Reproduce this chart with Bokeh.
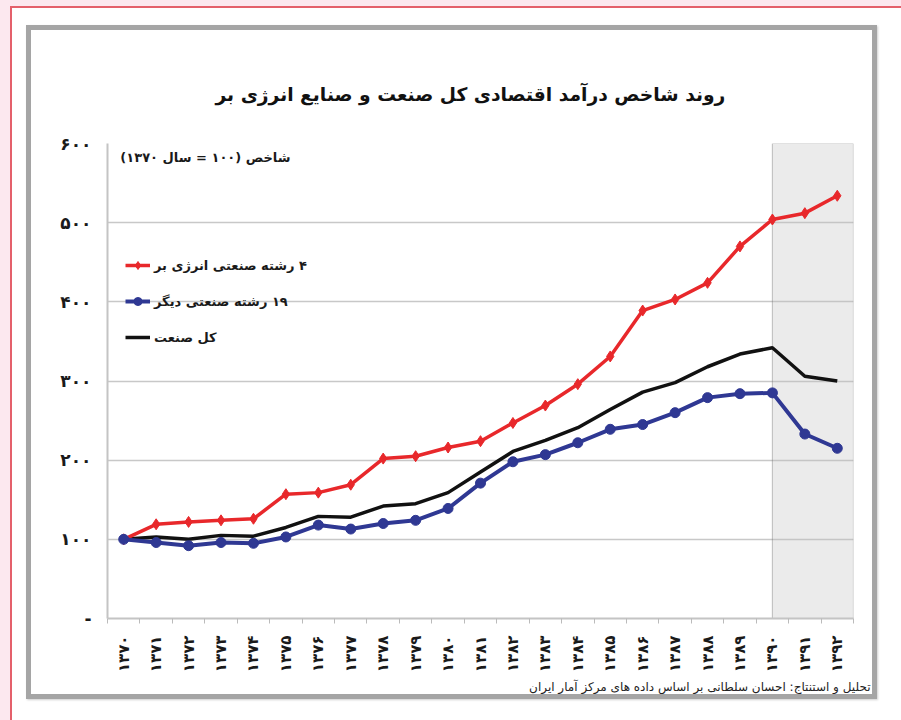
import math
from bokeh.plotting import figure
from bokeh.models import Range1d, FixedTicker, BoxAnnotation, Label, Legend, LegendItem, Title
from bokeh.embed import file_html
from bokeh.resources import INLINE

# ---------------- data ----------------
years = list(range(1370, 1393))
energy = [100, 119, 122, 124, 126, 157, 159, 169, 202, 205, 216, 224, 247,
          269, 296, 331, 389, 403, 424, 470, 504, 512, 534]
other = [100, 96, 92, 96, 95, 103, 118, 113, 120, 124, 139, 171, 198,
         207, 222, 239, 245, 260, 279, 284, 285, 233, 215]
total = [100, 103, 100, 105, 104, 115, 129, 128, 142, 145, 159, 185, 211,
         225, 241, 264, 286, 298, 318, 334, 342, 306, 300]

FA = str.maketrans("0123456789", "۰۱۲۳۴۵۶۷۸۹")
year_labels = [str(y).translate(FA) for y in years]
y_ticks = [0, 100, 200, 300, 400, 500, 600]
y_tick_labels = ["-"] + [str(v).translate(FA) for v in y_ticks[1:]]

title_text = "روند شاخص درآمد اقتصادی کل صنعت و صنایع انرژی بر"
subtitle_text = "شاخص (۱۰۰ = سال ۱۳۷۰)"
series_names = ["۴ رشته صنعتی انرژی بر", "۱۹ رشته صنعتی دیگر", "کل صنعت"]
source_text = "تحلیل و استنتاج: احسان سلطانی بر اساس داده های مرکز آمار ایران"
shade_start = 1390


def rtl(s):
    return "\u202b" + s + "\u202c"


RED = "#e8282b"
BLUE = "#2f3893"
BLACK = "#111111"
FONT = "DejaVu Sans"

W, H = 851, 674
p = figure(width=W, height=H, output_backend="svg", toolbar_location=None,
           x_range=Range1d(1369.5, 1392.5), y_range=Range1d(0, 600),
           min_border_left=76, min_border_right=29,
           min_border_top=113, min_border_bottom=86)
p.outline_line_color = None
p.background_fill_color = "white"
p.border_fill_color = "white"
p.styles = {
    "margin-left": "26px",
    "margin-top": "25px",
    "border": "5px solid #a5a5a5",
    "box-shadow": "1px 1px 2px #cfcfcf, 26px 23px 0 40px #ffffff, "
                  "24px 21px 0 40px #e4606b, 0 0 0 80px #fce8ef",
}

# title (above) and source note (below)
p.title.text = title_text
p.title.align = "left"
p.title.offset = 108
p.title.standoff = 77
p.title.text_font = FONT
p.title.text_font_style = "bold"
p.title.text_font_size = "18.7px"
p.title.text_color = "#111111"

# grid
p.xgrid.grid_line_color = None
p.ygrid.grid_line_color = "#c8c8c8"
p.ygrid.grid_line_width = 1.5

# y axis
p.yaxis.ticker = FixedTicker(ticks=y_ticks)
p.yaxis.major_label_overrides = {t: l for t, l in zip(y_ticks, y_tick_labels)}
p.yaxis.axis_line_color = "#c4c4c4"
p.yaxis.axis_line_width = 2
p.yaxis.major_tick_out = 0
p.yaxis.major_tick_in = 0
p.yaxis.minor_tick_out = 0
p.yaxis.major_label_standoff = 16
p.yaxis.major_label_text_font = FONT
p.yaxis.major_label_text_font_style = "bold"
p.yaxis.major_label_text_font_size = "17px"
p.yaxis.major_label_text_color = "#1a1a1a"

# x axis
p.xaxis.ticker = FixedTicker(ticks=years, minor_ticks=[y - 0.5 for y in years] + [years[-1] + 0.5])
p.xaxis.major_label_overrides = {y: l for y, l in zip(years, year_labels)}
p.xaxis.axis_line_color = "#c4c4c4"
p.xaxis.axis_line_width = 2
p.xaxis.major_tick_out = 0
p.xaxis.major_tick_in = 0
p.xaxis.minor_tick_out = 5
p.xaxis.minor_tick_in = 0
p.xaxis.minor_tick_line_color = "#bbbbbb"
p.xaxis.major_label_orientation = math.pi / 2
p.xaxis.major_label_standoff = 12
p.xaxis.major_label_text_font = FONT
p.xaxis.major_label_text_font_style = "bold"
p.xaxis.major_label_text_font_size = "15px"
p.xaxis.major_label_text_color = "#1a1a1a"

footer = Title(text=source_text, align="right", offset=-17, standoff=4,
               text_font=FONT, text_font_style="normal", text_font_size="12px",
               text_color="#222222")
p.add_layout(footer, "below")

# shaded period
p.add_layout(BoxAnnotation(left=shade_start, fill_color="#c0c0c0", fill_alpha=0.32,
                           line_color="#555555", line_width=1.2, level="underlay"))

# series
r3 = p.line(years, total, color=BLACK, line_width=3.5)
r1 = p.line(years, energy, color=RED, line_width=3.5)
s1 = p.scatter(years, energy, marker="diamond", size=11, color=RED)
r2 = p.line(years, other, color=BLUE, line_width=4)
s2 = p.scatter(years, other, marker="circle", size=10, color=BLUE)

legend = Legend(items=[LegendItem(label=rtl(series_names[0]), renderers=[r1, s1]),
                       LegendItem(label=rtl(series_names[1]), renderers=[r2, s2]),
                       LegendItem(label=rtl(series_names[2]), renderers=[r3])],
                location=(18, 271))
legend.border_line_color = None
legend.background_fill_alpha = 0
legend.padding = 0
legend.margin = 0
legend.spacing = 16
legend.glyph_width = 25
legend.glyph_height = 20
legend.label_height = 20
legend.label_standoff = 4
legend.label_text_font = FONT
legend.label_text_font_style = "bold"
legend.label_text_font_size = "13px"
legend.label_text_color = "#1a1a1a"
p.add_layout(legend)

# subtitle inside the plot area
p.add_layout(Label(x=183, y=461, x_units="screen", y_units="screen", text=rtl(subtitle_text),
                   text_align="right", text_baseline="middle", text_font=FONT,
                   text_font_style="bold", text_font_size="13px", text_color="#1a1a1a"))

open("out.html", "w").write(file_html(p, INLINE))
